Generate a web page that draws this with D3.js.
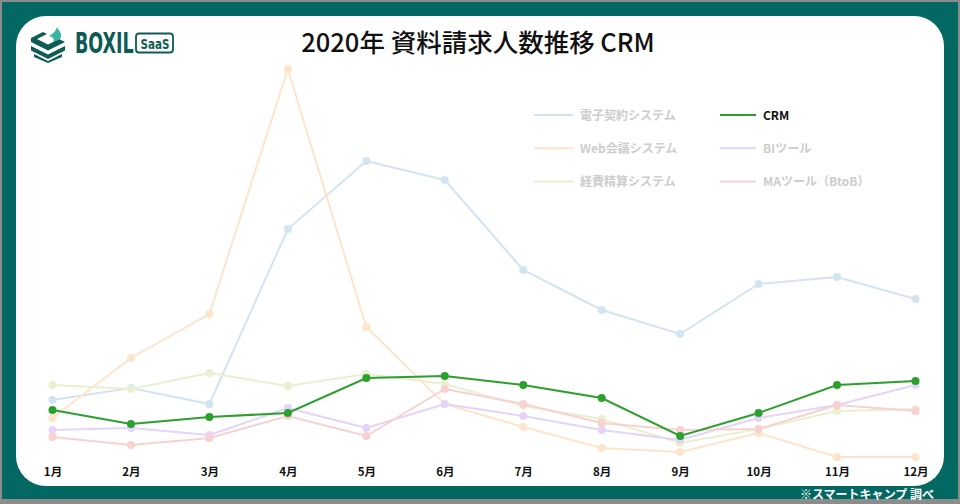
<!DOCTYPE html>
<html><head><meta charset="utf-8">
<script src="https://cdn.jsdelivr.net/npm/d3@7"></script>
<style>html,body{margin:0;padding:0;background:#fff}svg{display:block}</style>
</head><body>
<script>
const months = ["1月","2月","3月","4月","5月","6月","7月","8月","9月","10月","11月","12月"];
const seriesNames = ["電子契約システム","Web会議システム","経費精算システム","CRM","BIツール","MAツール（BtoB）"];
const denshi  = [70, 82, 66, 241, 309, 290, 200, 160, 136, 186, 193, 171];
const webkaigi= [52, 112, 156, 401, 143, 66, 43, 22, 18, 37, 13, 13];
const keihi   = [85, 81, 97, 84, 96, 86, 64, 51, 27, 41, 59, 61];
const crm     = [60, 46, 53, 57, 92, 94, 85, 72, 34, 57, 85, 89];
const bi      = [40, 42, 35, 62, 42, 66, 54, 40, 30, 52, 65, 85];
const ma      = [33, 25, 32, 54, 34, 81, 66, 47, 40, 41, 65, 59];
const colors  = ["#d3e4f1","#fee4cb","#e9f0cf","#2ca02c","#e6d3fa","#f8d1d1"];
const values  = [denshi, webkaigi, keihi, crm, bi, ma];

const W=960,H=504;
const svg=d3.select("body").append("svg").attr("width",W).attr("height",H);
svg.append("rect").attr("width",W).attr("height",H).attr("fill","#8c8c8c");
svg.append("rect").attr("x",2).attr("y",2).attr("width",956).attr("height",497).attr("fill","#036862");
svg.append("rect").attr("x",16).attr("y",16).attr("width",928).attr("height",470).attr("rx",30).attr("fill","#fff");

const FONT="'Noto Sans CJK JP','Noto Sans',sans-serif";
const NARROW="'Liberation Sans Narrow','DejaVu Sans Condensed',sans-serif";

// logo
const logo=svg.append("g").attr("transform","translate(31,27)");
const lc="#0c5b54";
logo.append("path").attr("d","M0,11 L12,5 L16,7 L6,12 L17,17.5 L28,12 L34,15 L17,23.5 L0,15 Z").attr("fill",lc);
logo.append("path").attr("d","M0,19 L17,27.5 L34,19 L34,23.5 L17,32 L0,23.5 Z").attr("fill",lc);
logo.append("path").attr("d","M3,27 L17,34 L31,27 L31,30 L17,36 L3,30 Z").attr("fill",lc);
logo.append("path").attr("d","M18,9 C22,7 25,4 26,0 C28,4 31,6 30,10 C29,13 25,14 22,14 C24,12 22,10 18,9 Z").attr("fill","#3bb3a3");
logo.append("g").attr("transform","translate(44,26) scale(1,1.45)")
  .append("text").attr("x",0).attr("y",0).attr("font-family",NARROW)
  .attr("font-weight","bold").attr("font-size",19.5).attr("fill",lc).text("BOXIL");
logo.append("rect").attr("x",105).attr("y",6.5).attr("width",37).attr("height",19).attr("rx",3).attr("fill","none").attr("stroke",lc).attr("stroke-width",1.8);
logo.append("g").attr("transform","translate(109.5,21.5) scale(1,1.3)")
  .append("text").attr("x",0).attr("y",0).attr("font-family",NARROW)
  .attr("font-weight","bold").attr("font-size",11.5).attr("fill",lc).text("SaaS");

// title
svg.append("text").attr("x",478).attr("y",52).attr("text-anchor","middle").attr("font-family",FONT)
  .attr("font-size",25.5).attr("font-weight",500).attr("fill","#111").text("2020年 資料請求人数推移 CRM");

// scales
const x=d3.scalePoint().domain(months).range([52.5,915.5]);
const y=d3.scaleLinear().domain([0,400]).range([470,70]);

// x axis
const ax=svg.append("g").attr("transform","translate(0,461)").call(d3.axisBottom(x).tickSize(0).tickPadding(7));
ax.select(".domain").remove();
ax.selectAll("text").attr("font-family",FONT).attr("font-size",11.5).attr("font-weight","bold").attr("fill","#111");

// lines
const line=d3.line().x((d,i)=>x(months[i])).y(d=>y(d));
const order=[0,1,2,4,5,3];
order.forEach(k=>{
  const g=svg.append("g");
  g.append("path").datum(values[k]).attr("d",line).attr("fill","none").attr("stroke",colors[k]).attr("stroke-width",2);
  g.selectAll("circle").data(values[k]).join("circle").attr("cx",(d,i)=>x(months[i])).attr("cy",d=>y(d)).attr("r",4).attr("fill",colors[k]);
});

// legend
const leg=svg.append("g");
seriesNames.forEach((n,k)=>{
  const col=k<3?0:1, row=k%3;
  const lx=col===0?534:720, tx=col===0?580:763, ly=115+row*33.3;
  leg.append("line").attr("x1",lx).attr("x2",lx+(col===0?39:36)).attr("y1",ly).attr("y2",ly).attr("stroke",colors[k]).attr("stroke-width",2);
  leg.append("text").attr("x",tx).attr("y",ly+4.5).attr("font-family",FONT).attr("font-size",12).attr("font-weight","bold")
    .attr("fill",k===3?"#111":"#cdcdcd").text(n);
});

// note
svg.append("text").attr("x",934).attr("y",499).attr("text-anchor","end").attr("font-family",FONT).attr("font-size",12).attr("font-weight","bold")
  .attr("fill","#fff").text("※スマートキャンプ 調べ");
</script>
</body></html>
